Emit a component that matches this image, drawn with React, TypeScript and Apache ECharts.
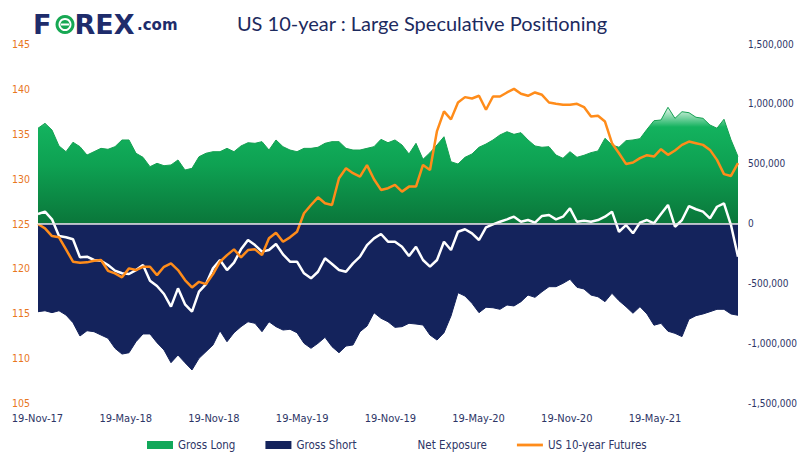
import React, { useEffect, useRef } from 'react';
import * as echarts from 'echarts';

const xTickLabels = ['19-Nov-17', '19-May-18', '19-Nov-18', '19-May-19', '19-Nov-19', '19-May-20', '19-Nov-20', '19-May-21'];

// thousands of contracts (right axis)
const grossLong = [
  796, 837, 781, 648, 600, 679, 642, 572, 600, 628, 620, 642, 698, 698, 587, 553, 475, 503, 483, 489, 531, 447, 461, 558, 587,
  600, 600, 628, 600, 648, 675, 670, 684, 614, 698, 642, 614, 600, 628, 628, 637, 670, 684, 684, 628, 614, 614, 628, 642, 703,
  675, 698, 656, 581, 670, 536, 592, 656, 725, 516, 497, 553, 581, 637, 664, 698, 740, 767, 745, 759, 698, 648, 637, 642, 572,
  545, 600, 553, 570, 592, 606, 712, 656, 637, 692, 698, 709, 787, 859, 865, 971, 879, 934, 926, 888, 879, 823, 796, 871, 700, 560,
];
const grossShort = [
  -737, -729, -745, -729, -765, -829, -940, -896, -904, -932, -959, -1043, -1091, -1080, -988, -923, -923, -996, -1057, -1163, -1099, -1163, -1224, -1127, -1071,
  -1015, -896, -988, -913, -862, -821, -834, -904, -821, -862, -890, -884, -913, -1001, -1043, -1001, -951, -1029, -1080, -1024, -1015, -904, -857, -745, -792,
  -821, -868, -862, -834, -840, -848, -932, -974, -913, -773, -578, -606, -667, -745, -700, -704, -717, -681, -689, -653, -598, -617, -570, -528, -528,
  -500, -466, -533, -547, -598, -612, -653, -583, -645, -695, -750, -695, -756, -850, -834, -900, -918, -945, -800, -770, -756, -737, -717, -717, -756, -767,
];
const netExposure = [
  79, 99, 35, -104, -115, -132, -283, -277, -305, -311, -347, -394, -416, -422, -389, -347, -478, -522, -589, -695, -542, -675, -737, -570, -506,
  -375, -305, -389, -327, -216, -138, -180, -235, -221, -171, -258, -319, -319, -416, -458, -403, -291, -338, -389, -403, -333, -277, -180, -124, -88,
  -152, -152, -194, -272, -194, -305, -361, -305, -152, -221, -69, -48, -82, -138, -32, -7, 15, 35, 57, 15, 29, 7, 63, 71, 35,
  57, 127, 15, 23, 15, 29, 57, 99, -69, -13, -82, 7, 29, 2, 79, 155, -27, 29, 146, 119, 99, 43, 140, 169, -13, -277,
];
// US 10-year futures price (left axis)
const futures = [
  124.94, 124.46, 123.6, 123.46, 122.12, 120.74, 120.63, 120.67, 120.85, 120.93, 119.73, 119.44, 119.0, 120.0, 119.81, 120.18, 120.18, 119.25, 120.18, 120.56, 119.81, 118.7, 117.88, 118.5, 118.25,
  119.36, 120.74, 121.48, 122.12, 121.23, 122.04, 122.12, 121.48, 123.35, 123.97, 122.97, 123.46, 124.08, 126.14, 127.06, 127.92, 127.25, 127.06, 130.04, 131.16, 130.6, 130.22, 131.5, 129.93, 128.74,
  128.93, 129.3, 128.55, 129.11, 129.11, 131.53, 130.97, 135.3, 137.5, 136.6, 138.48, 139.08, 138.93, 139.23, 137.67, 139.15, 139.15, 139.6, 140.0, 139.45, 139.23, 139.6, 139.34, 138.48, 138.34,
  138.23, 138.23, 138.34, 137.97, 136.92, 137.0, 136.36, 133.95, 132.83, 131.64, 131.79, 132.28, 132.61, 132.46, 133.28, 132.65, 133.13, 133.76, 134.13, 133.95, 133.76, 133.2, 132.09, 130.5, 130.3, 131.72,
];

const NARROW = "'Liberation Sans Narrow', 'DejaVu Sans Condensed', sans-serif";
const NAVY = '#14235c';
const TEXT_NAVY = '#2d3566';
const ORANGE = '#ff8c1a';
const LINE_ICON = 'path://M0,0 L28,0 L28,3 L0,3 Z';

export default function App() {
  const ref = useRef<HTMLDivElement>(null);
  useEffect(() => {
    const chart = echarts.init(ref.current!, null, { renderer: 'svg' });
    const idx = grossLong.map((_, i) => String(i));
    const greenGrad = new echarts.graphic.LinearGradient(0, 0, 0, 1, [
      { offset: 0, color: '#eaf8ee' },
      { offset: 0.17, color: '#13b25e' },
      { offset: 0.5, color: '#0ea152' },
      { offset: 1, color: '#0a763a' },
    ]);
    chart.setOption({
      animation: false,
      backgroundColor: '#ffffff',
      grid: [
        { left: 38, width: 700, top: 44, height: 359 },
        { left: 37.5, width: 617.5, top: 44, height: 359 },
      ],
      xAxis: [
        {
          type: 'category', gridIndex: 0, data: idx, boundaryGap: false,
          axisLine: { show: false }, axisTick: { show: false }, axisLabel: { show: false }, splitLine: { show: false },
        },
        {
          type: 'category', gridIndex: 1, data: xTickLabels, boundaryGap: false,
          axisLine: { show: false }, axisTick: { show: false }, splitLine: { show: false },
          axisLabel: { interval: 0, margin: 10, color: TEXT_NAVY, fontFamily: NARROW, fontSize: 11 },
        },
      ],
      yAxis: [
        {
          type: 'value', gridIndex: 0, position: 'left', min: 105, max: 145, interval: 5,
          axisLine: { show: false }, axisTick: { show: false }, splitLine: { show: false },
          axisLabel: { color: '#e8771f', fontFamily: NARROW, fontSize: 10.5, align: 'left', margin: 26 },
        },
        {
          type: 'value', gridIndex: 0, position: 'right', min: -1500, max: 1500, interval: 500,
          axisLine: { show: false }, axisTick: { show: false }, splitLine: { show: false },
          axisLabel: {
            color: TEXT_NAVY, fontFamily: NARROW, fontSize: 10, align: 'left', margin: 10,
            formatter: (v: number) => (v * 1000).toLocaleString('en-US'),
          },
        },
        { type: 'value', gridIndex: 1, show: false },
      ],
      legend: {
        left: 147, top: 439, padding: 0, itemGap: 30, itemWidth: 26, itemHeight: 8,
        textStyle: { color: TEXT_NAVY, fontFamily: NARROW, fontSize: 11.5 },
        selectedMode: false,
        data: [
          { name: 'Gross Long', icon: 'rect', itemStyle: { color: '#12a85a' } },
          { name: 'Gross Short', icon: 'rect', itemStyle: { color: NAVY } },
          { name: 'Net Exposure', icon: LINE_ICON, itemStyle: { color: '#ffffff' } },
          { name: 'US 10-year Futures', icon: LINE_ICON, itemStyle: { color: ORANGE } },
        ],
      },
      series: [
        {
          name: 'Gross Long', type: 'line', xAxisIndex: 0, yAxisIndex: 1, data: grossLong,
          symbol: 'none', lineStyle: { color: '#15a052', width: 1 }, itemStyle: { color: '#12a85a' },
          areaStyle: { color: greenGrad, opacity: 1 },
        },
        {
          name: 'Gross Short', type: 'line', xAxisIndex: 0, yAxisIndex: 1, data: grossShort,
          symbol: 'none', lineStyle: { color: NAVY, width: 1 }, itemStyle: { color: NAVY },
          areaStyle: { color: NAVY, opacity: 1 },
          markLine: {
            silent: true, symbol: 'none', label: { show: false },
            lineStyle: { color: '#e4e4e4', width: 1.5, type: 'solid' },
            data: [{ yAxis: 0 }],
          },
        },
        {
          name: 'Net Exposure', type: 'line', xAxisIndex: 0, yAxisIndex: 1, data: netExposure,
          symbol: 'none', lineStyle: { color: '#ffffff', width: 2.5 }, itemStyle: { color: '#ffffff' },
        },
        {
          name: 'US 10-year Futures', type: 'line', xAxisIndex: 0, yAxisIndex: 0, data: futures,
          symbol: 'none', lineStyle: { color: ORANGE, width: 2.5 }, itemStyle: { color: ORANGE },
        },
      ],
      graphic: [
        {
          type: 'text', left: 33, top: 11,
          style: { text: 'F', font: 'bold 27px "DejaVu Sans"', fill: '#1e2c6b' },
        },
        { type: 'circle', shape: { cx: 65, cy: 24.5, r: 9.5 }, style: { fill: '#17a853' } },
        { type: 'ring', shape: { cx: 65, cy: 24.5, r: 6.5, r0: 4.6 }, style: { fill: '#ffffff' } },
        { type: 'rect', shape: { x: 61, y: 23.5, width: 8, height: 2 }, style: { fill: '#ffffff' } },
        {
          type: 'text', left: 74.5, top: 11,
          style: { text: 'REX', font: 'bold 27px "DejaVu Sans"', fill: '#1e2c6b' },
        },
        {
          type: 'text', left: 137, top: 17,
          style: { text: '.com', font: 'bold 15px "DejaVu Sans"', fill: '#1e2c6b' },
        },
        {
          type: 'text', x: 422, y: 23,
          style: {
            text: 'US 10-year : Large Speculative Positioning', font: '20px Lato',
            fill: '#1c2a5e', textAlign: 'center', textVerticalAlign: 'middle',
          },
        },
      ],
    });
    return () => chart.dispose();
  }, []);
  return <div ref={ref} style={{ width: 800, height: 457, position: 'absolute', left: 0, top: 0 }} />;
}
